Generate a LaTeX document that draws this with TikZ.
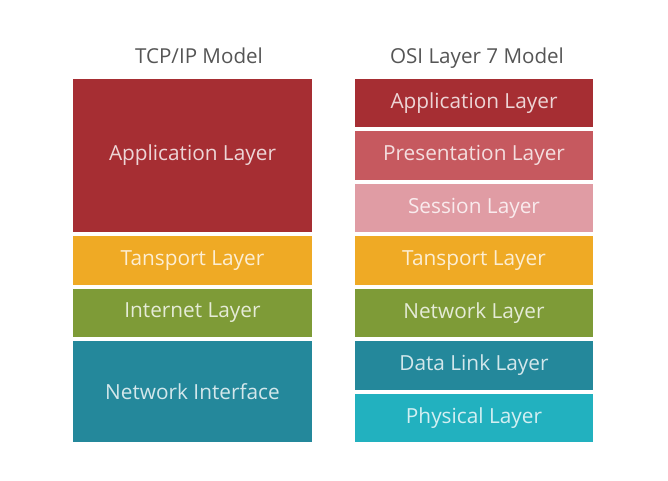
\documentclass[tikz,border=0pt]{standalone}
\usepackage{fontspec}
\setmainfont{Open Sans}
\definecolor{appred}{HTML}{A62E33}
\definecolor{presred}{HTML}{C6595F}
\definecolor{sesspink}{HTML}{E09CA4}
\definecolor{transyel}{HTML}{EFAA25}
\definecolor{netgreen}{HTML}{7E9B37}
\definecolor{linkteal}{HTML}{24889B}
\definecolor{physcyan}{HTML}{22B1BF}
\definecolor{titlegray}{HTML}{555555}

\begin{document}
\begin{tikzpicture}
  [x=1pt,y=-1pt,every node/.style={rectangle,inner sep=0pt,font=\fontsize{20.8}{24}\selectfont},
   layer/.style={fill=#1,text=white!80!#1,minimum height=48.5pt},
   title/.style={text=titlegray,anchor=base,font=\fontsize{20.6}{24}\selectfont}]
  \useasboundingbox (0,0) rectangle (668,480);
  % TCP/IP
  \node[title] (ttitle) at (199,63) {TCP/IP Model};
  \node[layer=appred,minimum width=239pt,minimum height=153.5pt] (tapp) at (192.5,155.5) {Application Layer};
  \node[layer=transyel,minimum width=239pt] (ttrans) at (192.5,260.5) {Tansport Layer};
  \node[layer=netgreen,minimum width=239pt] (tinet) at (192.5,313) {Internet Layer};
  \node[layer=linkteal,minimum width=239pt,minimum height=101pt] (tnet) at (192.5,391.75) {Network Interface};
  % OSI
  \node[title] (otitle) at (477,63) {OSI Layer 7 Model};
  \foreach \name/\col/\txt [count=\i from 0] in {app/appred/Application Layer,pres/presred/Presentation Layer,
      sess/sesspink/Session Layer,trans/transyel/Tansport Layer,net/netgreen/Network Layer,
      link/linkteal/Data Link Layer,phys/physcyan/Physical Layer}
    \node[layer=\col,minimum width=238pt] (o\name) at (474,103+52.5*\i) {\txt};
\end{tikzpicture}
\end{document}
